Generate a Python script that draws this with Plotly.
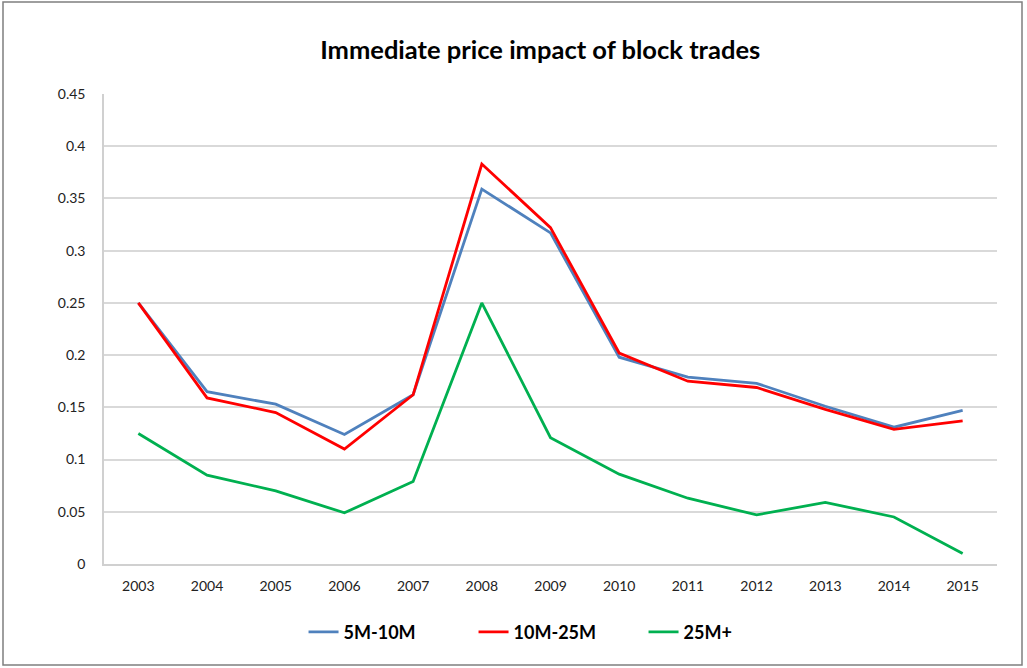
import plotly.graph_objects as go

years = ["2003", "2004", "2005", "2006", "2007", "2008", "2009", "2010", "2011", "2012", "2013", "2014", "2015"]
s_5_10 = [0.250, 0.165, 0.153, 0.124, 0.162, 0.359, 0.317, 0.198, 0.179, 0.173, 0.151, 0.131, 0.147]
s_10_25 = [0.250, 0.159, 0.145, 0.110, 0.162, 0.383, 0.322, 0.202, 0.175, 0.169, 0.148, 0.129, 0.137]
s_25p = [0.125, 0.085, 0.070, 0.049, 0.079, 0.250, 0.121, 0.086, 0.063, 0.047, 0.059, 0.045, 0.010]
names = ["5M-10M", "10M-25M", "25M+"]
colors = ["#4f81bd", "#ff0000", "#00b050"]
y_ticks = [0, 0.05, 0.1, 0.15, 0.2, 0.25, 0.3, 0.35, 0.4, 0.45]

fig = go.Figure()
for name, vals, col in zip(names, [s_5_10, s_10_25, s_25p], colors):
    fig.add_trace(go.Scatter(x=years, y=vals, name="<b>" + name + "</b>", mode="lines",
                             line=dict(color=col, width=2.8)))

font_family = "Lato, 'Open Sans', sans-serif"
fig.update_layout(
    width=1027, height=668,
    margin=dict(l=104, r=30, t=94, b=104),
    paper_bgcolor="white", plot_bgcolor="white",
    title=dict(text="<b>Immediate price impact of block trades</b>", x=0.526, xanchor="center",
               y=0.925, yanchor="middle", font=dict(family=font_family, size=25.5, color="black")),
    font=dict(family=font_family, size=14, color="#222222"),
    xaxis=dict(type="category", showgrid=False, showline=True, linecolor="#d0d0d0", linewidth=1.5,
               ticks="", tickfont=dict(size=14), range=[-0.5, 12.5], ticklabelstandoff=8),
    yaxis=dict(range=[0, 0.45], tickvals=y_ticks, showgrid=True, gridcolor="#d9d9d9", gridwidth=1.5,
               showline=True, linecolor="#d0d0d0", linewidth=1.5, zeroline=False, ticks="",
               tickfont=dict(size=14), ticklabelstandoff=14),
    legend=dict(orientation="h", x=0.509, xanchor="center", y=-0.145, yanchor="middle",
                font=dict(size=18, color="black", family=font_family), itemwidth=30,
                entrywidth=125, tracegroupgap=0),
    showlegend=True,
)
fig.add_shape(type="rect", xref="paper", yref="paper", x0=-101/893, x1=1+25/893, y0=-101/470, y1=1+92/470,
              line=dict(color="#7f7f7f", width=1.5), fillcolor="rgba(0,0,0,0)", layer="below")
fig.write_html("out.html", config={"displayModeBar": False},
               post_script="document.body.style.margin='0';document.body.style.padding='0';")
